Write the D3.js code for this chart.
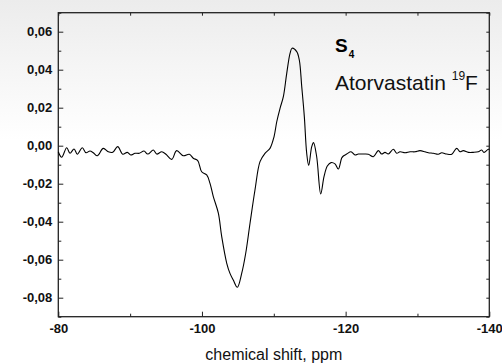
<!DOCTYPE html>
<html>
<head>
<meta charset="utf-8">
<script src="https://cdn.jsdelivr.net/npm/d3@7"></script>
<style>
  html, body { margin: 0; padding: 0; background: #fff; }
  svg { display: block; font-family: "Liberation Sans", Arial, sans-serif; }
</style>
</head>
<body>
<div id="chart-container"></div>
<script>
// chemical shift (ppm) and signal
const shift = [
  -80.0, -80.47, -81.17, -81.63, -82.19, -82.65, -83.34, -83.86, -84.41, -84.87,
  -85.43, -86.26, -86.96, -87.57, -88.27, -88.97, -89.61, -90.08, -90.68, -91.28,
  -91.93, -92.45, -93.23, -93.7, -94.4, -94.99, -95.79, -96.48, -97.4, -98.24,
  -98.79, -99.41, -99.96, -100.66, -101.12, -101.58, -102.28, -102.75, -103.45, -103.9,
  -104.36, -104.92, -105.53, -106.09, -106.69, -107.38, -108.08, -108.77, -109.47, -110.03,
  -110.41, -110.87, -111.33, -111.8, -112.26, -112.54, -113.19, -113.55, -113.89, -114.25,
  -114.58, -114.86, -115.28, -115.53, -115.97, -116.53, -116.99, -117.45, -117.97, -118.52,
  -118.98, -119.45, -119.68, -120.15, -120.75, -121.31, -121.77, -122.46, -123.16, -123.85,
  -124.55, -125.02, -125.48, -125.94, -126.64, -127.11, -127.57, -128.27, -128.96, -129.66,
  -130.35, -131.05, -131.51, -132.21, -132.9, -133.38, -134.07, -134.77, -135.46, -135.92,
  -136.38, -137.08, -137.77, -138.47, -138.94, -139.26, -139.86, -140.0
];
const signal = [
  -0.0032, -0.0061, -0.0011, -0.004, -0.0017, -0.0045, -0.0011, -0.0037, -0.0028, -0.0037,
  -0.0053, -0.0014, -0.0032, -0.0035, -0.0005, -0.0045, -0.0035, -0.0049, -0.004, -0.004,
  -0.0028, -0.0044, -0.0023, -0.0044, -0.0032, -0.0045, -0.0072, -0.0026, -0.0053, -0.0045,
  -0.0066, -0.0078, -0.0137, -0.0154, -0.0198, -0.0268, -0.0355, -0.0479, -0.0619, -0.0672,
  -0.0707, -0.0745, -0.0672, -0.0566, -0.0408, -0.0233, -0.0084, -0.004, -0.0014, 0.0047,
  0.0126, 0.0197, 0.0258, 0.0381, 0.0486, 0.0513, 0.0495, 0.0451, 0.0311, 0.0153,
  -0.004, -0.0104, -0.0005, 0.0016, -0.0058, -0.0254, -0.0163, -0.0107, -0.0089, -0.0096,
  -0.0123, -0.0065, -0.0054, -0.0044, -0.0032, -0.0049, -0.0044, -0.0044, -0.0045, -0.0058,
  -0.0026, -0.0044, -0.0035, -0.0044, -0.0019, -0.004, -0.0032, -0.0037, -0.0032, -0.0032,
  -0.0026, -0.0032, -0.0037, -0.004, -0.0045, -0.0037, -0.0044, -0.0045, -0.0014, -0.0032,
  -0.0026, -0.0035, -0.0035, -0.0032, -0.0023, -0.0035, -0.0019, -0.002
];
const xTicks = [-80, -100, -120, -140];
const xMinorTicks = [-90, -110, -130];
const yTicks = [-0.08, -0.06, -0.04, -0.02, 0.0, 0.02, 0.04, 0.06];
const yMinorTicks = [-0.09, -0.07, -0.05, -0.03, -0.01, 0.01, 0.03, 0.05, 0.07];

const data = shift.map((s, i) => ({ shift: s, signal: signal[i] }));

const width = 502;
const height = 364;
const margin = { top: 12.7, right: 12.7, bottom: 47.3, left: 58.3 };

const locale = d3.formatLocale({ decimal: ",", thousands: " ", grouping: [3], currency: ["", ""], minus: "-" });
const fmtY = locale.format(".2f");
const fmtX = locale.format("d");

const x = d3.scaleLinear([-80, -140], [margin.left, width - margin.right]);
const y = d3.scaleLinear([-0.09, 0.07], [height - margin.bottom, margin.top]);

const svg = d3
  .select("#chart-container")
  .append("svg")
  .attr("width", width)
  .attr("height", height);

const grad = svg
  .append("defs")
  .append("linearGradient")
  .attr("id", "bg")
  .attr("x1", 0)
  .attr("y1", 0)
  .attr("x2", 0)
  .attr("y2", 1);
grad.append("stop").attr("offset", "0%").attr("stop-color", "#ececec");
grad.append("stop").attr("offset", "100%").attr("stop-color", "#ffffff");

svg.append("rect").attr("width", width).attr("height", height).attr("fill", "#fff");
svg.append("rect").attr("width", width).attr("height", 140).attr("fill", "url(#bg)");

const axisColor = "#222";

function styleAxis(g) {
  g.select(".domain").remove();
  g.selectAll(".tick line").attr("stroke", axisColor);
  g.selectAll(".tick text")
    .attr("fill", "#111")
    .style("font-size", "13px")
    .style("font-weight", "bold");
}

// bottom axis
svg
  .append("g")
  .attr("transform", `translate(0,${height - margin.bottom})`)
  .call(d3.axisBottom(x).tickValues(xTicks).tickFormat(fmtX).tickSizeInner(-5).tickSizeOuter(0).tickPadding(7))
  .call(styleAxis);
svg
  .append("g")
  .attr("transform", `translate(0,${height - margin.bottom})`)
  .call(d3.axisBottom(x).tickValues(xMinorTicks).tickFormat("").tickSizeInner(-3).tickSizeOuter(0))
  .call(styleAxis);

// top axis
svg
  .append("g")
  .attr("transform", `translate(0,${margin.top})`)
  .call(d3.axisTop(x).tickValues(xTicks.concat(xMinorTicks)).tickFormat("").tickSizeInner(-3).tickSizeOuter(0))
  .call(styleAxis);

// left axis
svg
  .append("g")
  .attr("transform", `translate(${margin.left},0)`)
  .call(d3.axisLeft(y).tickValues(yTicks).tickFormat(fmtY).tickSizeInner(-5).tickSizeOuter(0).tickPadding(6))
  .call(styleAxis);
svg
  .append("g")
  .attr("transform", `translate(${margin.left},0)`)
  .call(d3.axisLeft(y).tickValues(yMinorTicks).tickFormat("").tickSizeInner(-3).tickSizeOuter(0))
  .call(styleAxis);

// right axis
svg
  .append("g")
  .attr("transform", `translate(${width - margin.right},0)`)
  .call(d3.axisRight(y).tickValues(yTicks.concat(yMinorTicks)).tickFormat("").tickSizeInner(-3).tickSizeOuter(0))
  .call(styleAxis);

// frame
svg
  .append("rect")
  .attr("x", margin.left)
  .attr("y", margin.top)
  .attr("width", width - margin.left - margin.right)
  .attr("height", height - margin.top - margin.bottom)
  .attr("fill", "none")
  .attr("stroke", axisColor)
  .attr("stroke-width", 1.3);

const line = d3
  .line()
  .x((d) => x(d.shift))
  .y((d) => y(d.signal))
  .curve(d3.curveCatmullRom.alpha(0.5));

svg
  .append("path")
  .attr("fill", "none")
  .attr("stroke", "#000")
  .attr("stroke-width", 1.1)
  .attr("d", line(data));

// annotation
const s4 = svg.append("text").attr("x", 335).attr("y", 51.7).attr("fill", "#000");
s4.append("tspan").style("font-size", "19px").style("font-weight", "bold").text("S");
s4.append("tspan").attr("dx", 1).attr("dy", 6.5).style("font-size", "10px").style("font-weight", "bold").text("4");

const atorva = svg.append("text").attr("x", 335).attr("y", 90).attr("fill", "#111").style("font-size", "21px");
atorva.append("tspan").text("Atorvastatin ");
atorva.append("tspan").attr("dy", -10).style("font-size", "12px").text("19");
atorva.append("tspan").attr("dy", 10).text("F");

svg
  .append("text")
  .attr("x", (margin.left + width - margin.right) / 2)
  .attr("y", 360)
  .attr("text-anchor", "middle")
  .attr("fill", "#111")
  .style("font-size", "16px")
  .text("chemical shift, ppm");
</script>
</body>
</html>
